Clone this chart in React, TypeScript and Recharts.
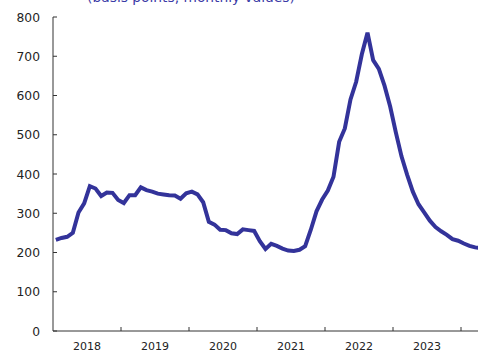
import { LineChart, Line, XAxis, YAxis } from 'recharts';

// monthly values, Jan 2018 .. Apr 2024 (basis points)
const months: string[] = [];
const years = ['2018', '2019', '2020', '2021', '2022', '2023', '2024'];
years.forEach((y) => {
  for (let m = 1; m <= 12; m++) months.push(`${y}-${String(m).padStart(2, '0')}`);
});

const spread = [
  232, 237, 240, 250, 302, 325, 369, 363, 344, 353, 352, 334,
  326, 346, 346, 366, 359, 355, 350, 348, 346, 345, 337, 351,
  355, 348, 328, 278, 271, 258, 257, 249, 247, 259, 257, 255,
  229, 209, 222, 217, 210, 205, 204, 207, 216, 258, 305, 335,
  358, 393, 482, 516, 590, 635, 705, 760, 690, 668, 625, 572,
  506, 445, 398, 355, 323, 302, 281, 265, 254, 245, 234, 230,
  223, 217, 213, 211,
];

const yTicks = [0, 100, 200, 300, 400, 500, 600, 700, 800];
// every 6 months: year boundaries get a tick mark, mid-years get the label
const xTicks = [6, 12, 18, 24, 30, 36, 42, 48, 54, 60, 66, 72];

const data = spread.map((v, i) => ({ month: months[i], t: i + 0.5, value: v }));

const TEXT = '#222222';
const AXIS = '#333333';
const FONT = '"DejaVu Sans", Verdana, sans-serif';

function XTick(props: any) {
  const { x, y, payload } = props;
  const v = payload.value as number;
  if (v % 12 === 0) {
    return <line x1={x} x2={x} y1={y} y2={y - 4} stroke={AXIS} strokeWidth={1} />;
  }
  return (
    <text x={x} y={y + 18.5} textAnchor="middle" fill={TEXT} fontSize={11} fontFamily={FONT}>
      {years[Math.floor(v / 12)]}
    </text>
  );
}

function YTick(props: any) {
  const { x, y, payload } = props;
  return (
    <g>
      <line x1={x + 13} x2={x + 17} y1={y} y2={y} stroke={AXIS} strokeWidth={1} />
      <text x={x} y={y + 4.5} textAnchor="end" fill={TEXT} fontSize={12.3} fontFamily={FONT}>
        {payload.value}
      </text>
    </g>
  );
}

export default function App() {
  return (
    <div style={{ position: 'absolute', left: 0, top: 0, width: 478, height: 351, background: '#fff', overflow: 'hidden' }}>
      <div
        style={{
          position: 'absolute',
          left: 0,
          top: -11,
          width: 382,
          textAlign: 'center',
          color: '#3a3aa6',
          fontFamily: FONT,
          fontSize: 13.8,
          lineHeight: '17px',
          whiteSpace: 'nowrap',
        }}
      >
        (basis points, monthly values)
      </div>
      <LineChart width={478} height={351} data={data} margin={{ top: 17, right: 0, left: 0, bottom: 0 }}>
        <XAxis
          dataKey="t"
          type="number"
          domain={[0, 75]}
          ticks={xTicks}
          interval={0}
          tickSize={0}
          tickMargin={0}
          height={20}
          tick={<XTick />}
          stroke={AXIS}
          allowDataOverflow
        />
        <YAxis
          domain={[0, 800]}
          ticks={yTicks}
          interval={0}
          width={53}
          tickSize={0}
          tickMargin={13}
          tick={<YTick />}
          stroke={AXIS}
        />
        <Line
          type="linear"
          dataKey="value"
          stroke="#33339a"
          strokeWidth={4}
          dot={false}
          isAnimationActive={false}
        />
      </LineChart>
    </div>
  );
}
